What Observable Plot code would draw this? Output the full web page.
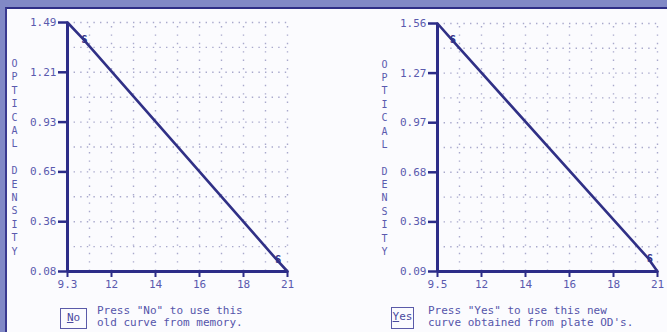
<!DOCTYPE html>
<html>
<head>
<meta charset="utf-8">
<script src="https://cdn.jsdelivr.net/npm/d3@7"></script>
<script src="https://cdn.jsdelivr.net/npm/@observablehq/plot@0.6"></script>
<style>
  html, body { margin: 0; padding: 0; }
  body { width: 667px; height: 332px; overflow: hidden; background: #8189c6; position: relative; font-family: "DejaVu Sans Mono", monospace; }
  #panel { position: absolute; left: 5px; top: 7px; width: 662px; height: 325px; background: #fbfbfe; border-top: 2px solid #2e2e86; border-left: 2px solid #3a3a90; box-sizing: border-box; }
  .chart { position: absolute; top: 0; }
  .btn { position: absolute; border: 1px solid #5a5aa8; color: #4a4aa0; font-size: 11px; line-height: 18px; text-align: center; box-sizing: border-box; }
  .btn u { text-decoration: underline; }
  .msg { position: absolute; color: #5555aa; font-size: 11px; line-height: 12px; white-space: pre; }
</style>
</head>
<body>
<div id="panel"></div>
<div id="left" class="chart" style="left:0px"></div>
<div id="right" class="chart" style="left:333px"></div>
<div class="btn" style="left:60px;top:308px;width:27px;height:21px;"><u>N</u>o</div>
<div class="msg" style="left:97px;top:305px;">Press "No" to use this
old curve from memory.</div>
<div class="btn" style="left:391px;top:307px;width:23px;height:22px;"><u>Y</u>es</div>
<div class="msg" style="left:428px;top:305px;">Press "Yes" to use this new
curve obtained from plate OD's.</div>
<script>
// ---- Left chart (old curve from memory) ----
const leftXLabels = ["9.3", "12", "14", "16", "18", "21"];
const leftYLabels = ["1.49", "1.21", "0.93", "0.65", "0.36", "0.08"];
const leftCurveX = [9.3, 10.1, 20.4, 21];
const leftCurveY = [1.49, 1.40, 0.15, 0.08];
const leftStdX = [10.1, 20.4];
const leftStdY = [1.40, 0.15];

// ---- Right chart (new curve from plate ODs) ----
const rightXLabels = ["9.5", "12", "14", "16", "18", "21"];
const rightYLabels = ["1.56", "1.27", "0.97", "0.68", "0.38", "0.09"];
const rightCurveX = [9.5, 10.2, 20.5, 21];
const rightCurveY = [1.56, 1.47, 0.17, 0.09];
const rightStdX = [10.2, 20.5];
const rightStdY = [1.47, 0.17];

const yTitle = "OPTICAL DENSITY";

const AXIS = "#2c2c88";
const LINE = "#303086";
const LABEL = "#5a5aae";
const GRID = "#a9a9cc";

function makeChart({xLabels, yLabels, cx, cy, sx, sy, width, marginLeft, marginRight, marginTop, marginBottom, height}) {
  const xMin = +xLabels[0], xMax = +xLabels[xLabels.length - 1];
  const yMax = +yLabels[0], yMin = +yLabels[yLabels.length - 1];
  const n = xLabels.length - 1;
  const xStep = (xMax - xMin) / n, yStep = (yMax - yMin) / n;
  const xTicks = xLabels.map((_, i) => xMin + i * xStep);
  const yTicks = yLabels.map((_, i) => yMax - i * yStep);
  const xHalf = d3.range(1, 2 * n + 1).map(i => xMin + i * xStep / 2);
  const yHalf = d3.range(0, 2 * n).map(i => yMax - i * yStep / 2);
  const curve = cx.map((x, i) => ({x, y: cy[i]}));
  const std = sx.map((x, i) => ({x, y: sy[i]}));
  const titleText = yTitle.split("").join("\n");
  return Plot.plot({
    width, height, marginLeft, marginRight, marginTop, marginBottom,
    style: {background: "transparent", fontFamily: "'DejaVu Sans Mono', monospace", fontSize: "11px", color: LABEL, overflow: "visible"},
    x: {domain: [xMin, xMax]},
    y: {domain: [yMin, yMax]},
    marks: [
      Plot.ruleY(yHalf, {stroke: GRID, strokeWidth: 1.4, strokeDasharray: "1.4,5.2"}),
      Plot.ruleX(xHalf, {stroke: GRID, strokeWidth: 1.4, strokeDasharray: "1.4,7", y1: yMin, y2: yMax}),
      Plot.axisX({ticks: xTicks, tickFormat: d => xLabels[Math.round((d - xMin) / xStep)], tickSize: 6, tickPadding: 3, stroke: AXIS, strokeWidth: 2, fill: LABEL, fontSize: 11, label: null}),
      Plot.axisY({ticks: yTicks, tickFormat: d => yLabels[Math.round((yMax - d) / yStep)], tickSize: 9, tickPadding: 2, stroke: AXIS, strokeWidth: 2.5, fill: LABEL, fontSize: 11, label: null}),
      Plot.ruleY([yMin], {stroke: AXIS, strokeWidth: 3}),
      Plot.ruleX([xMin], {stroke: AXIS, strokeWidth: 3}),
      Plot.line(curve, {x: "x", y: "y", stroke: LINE, strokeWidth: 2.6}),
      Plot.text(std, {x: "x", y: "y", text: () => "S", fill: LINE, fontSize: 10, fontWeight: "bold", dx: 2, dy: 1}),
      Plot.text([titleText], {frameAnchor: "left", text: d => d, dx: -53, dy: 9.5, lineHeight: 1.34, fill: LABEL, fontSize: 10, textAnchor: "middle"})
    ]
  });
}

document.getElementById("left").append(makeChart({
  xLabels: leftXLabels, yLabels: leftYLabels, cx: leftCurveX, cy: leftCurveY, sx: leftStdX, sy: leftStdY,
  width: 333, height: 300, marginLeft: 67, marginRight: 46, marginTop: 22, marginBottom: 29
}));
document.getElementById("right").append(makeChart({
  xLabels: rightXLabels, yLabels: rightYLabels, cx: rightCurveX, cy: rightCurveY, sx: rightStdX, sy: rightStdY,
  width: 334, height: 300, marginLeft: 104, marginRight: 10, marginTop: 23, marginBottom: 29
}));
</script>
</body>
</html>
